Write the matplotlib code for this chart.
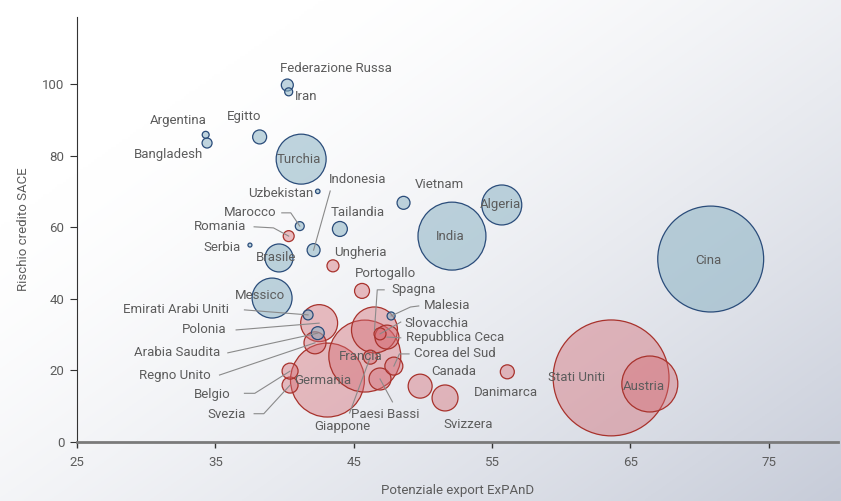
import numpy as np
import matplotlib.pyplot as plt

plt.rcParams['font.family'] = ['Roboto', 'DejaVu Sans']

# dati: potenziale export (x), rischio credito (y), peso della bolla, gruppo
paesi = ['Federazione Russa', 'Iran', 'Argentina', 'Bangladesh', 'Egitto', 'Turchia',
         'Uzbekistan', 'Vietnam', 'Marocco', 'Tailandia', 'Indonesia', 'Serbia',
         'Brasile', 'Messico', 'India', 'Algeria', 'Cina', 'Emirati Arabi Uniti',
         'Arabia Saudita', 'Malesia',
         'Romania', 'Ungheria', 'Portogallo', 'Polonia', 'Regno Unito', 'Francia',
         'Germania', 'Spagna', 'Slovacchia', 'Repubblica Ceca', 'Giappone',
         'Corea del Sud', 'Paesi Bassi', 'Belgio', 'Svezia', 'Canada', 'Svizzera',
         'Danimarca', 'Stati Uniti', 'Austria']
potenziale = [40.2, 40.3, 34.3, 34.4, 38.2, 41.2,
              42.4, 48.6, 41.1, 44.0, 42.1, 37.5,
              39.6, 39.1, 52.1, 55.7, 70.8, 41.7,
              42.4, 47.7,
              40.3, 43.5, 45.6, 42.5, 42.2, 45.8,
              43.1, 46.5, 46.9, 47.4, 46.2,
              47.9, 46.9, 40.4, 40.4, 49.8, 51.6,
              56.1, 63.6, 66.4]
rischio = [99.7, 97.8, 85.8, 83.5, 85.2, 79.0,
           70.0, 66.8, 60.3, 59.5, 53.6, 55.0,
           51.4, 40.2, 57.5, 66.2, 51.1, 35.5,
           30.4, 35.2,
           57.5, 49.2, 42.2, 33.2, 27.7, 24.0,
           17.3, 31.3, 30.2, 29.3, 23.7,
           21.2, 17.6, 19.8, 15.9, 15.6, 12.3,
           19.6, 17.9, 16.2]
peso = [36, 16, 12, 25, 49, 625,
        5, 42, 20, 56, 42, 4,
        196, 400, 1156, 400, 2809, 25,
        42, 16,
        30, 36, 56, 342, 121, 1296,
        1369, 529, 36, 144, 49,
        81, 121, 64, 64, 144, 169,
        49, 3364, 784]
gruppo = ['b'] * 20 + ['r'] * 20

# posizione delle etichette: (x, y, allineamento, linea guida)
etichette = {
    'Federazione Russa': (39.7, 104.2, 'left', None),
    'Iran': (40.75, 96.4, 'left', None),
    'Argentina': (34.4, 89.7, 'right', None),
    'Bangladesh': (34.1, 80.4, 'right', None),
    'Egitto': (37.1, 90.8, 'center', None),
    'Turchia': (41.0, 79.0, 'center', None),
    'Indonesia': (43.2, 73.2, 'left', [(43.3, 70.1)]),
    'Uzbekistan': (42.05, 69.3, 'right', None),
    'Vietnam': (49.4, 71.8, 'left', None),
    'Algeria': (55.6, 66.2, 'center', None),
    'Marocco': (39.45, 64.0, 'right', [(39.8, 64.0), (40.45, 64.0)]),
    'Tailandia': (43.3, 64.0, 'left', None),
    'Romania': (37.2, 60.1, 'right', [(37.8, 60.1), (39.2, 59.8)]),
    'India': (52.0, 57.5, 'center', None),
    'Serbia': (36.85, 54.2, 'right', None),
    'Brasile': (39.4, 51.4, 'center', None),
    'Ungheria': (43.6, 52.8, 'left', None),
    'Portogallo': (45.1, 47.2, 'left', None),
    'Spagna': (47.7, 42.5, 'left', [(47.2, 42.5), (46.7, 42.5)]),
    'Cina': (70.6, 50.8, 'center', None),
    'Messico': (38.2, 40.8, 'center', None),
    'Malesia': (50.1, 38.0, 'left', [(49.7, 38.0), (49.1, 37.7)]),
    'Emirati Arabi Uniti': (36.0, 36.9, 'right', [(37.1, 36.9)]),
    'Slovacchia': (48.7, 33.2, 'left', [(48.4, 33.5)]),
    'Polonia': (35.77, 31.3, 'right', [(36.5, 31.3)]),
    'Repubblica Ceca': (48.77, 29.1, 'left', [(48.4, 29.1)]),
    'Arabia Saudita': (35.33, 25.1, 'right', [(35.9, 24.9)]),
    'Francia': (45.5, 24.0, 'center', None),
    'Corea del Sud': (49.35, 24.6, 'left', [(49.0, 24.6), (48.3, 24.6)]),
    'Canada': (50.6, 19.8, 'left', None),
    'Regno Unito': (34.7, 18.7, 'right', [(35.3, 18.7)]),
    'Germania': (42.8, 17.3, 'center', None),
    'Danimarca': (53.7, 13.7, 'left', None),
    'Stati Uniti': (61.1, 17.9, 'center', None),
    'Austria': (66.0, 15.4, 'center', None),
    'Belgio': (36.1, 13.4, 'right', [(37.1, 13.6), (37.85, 13.6)]),
    'Paesi Bassi': (44.8, 7.8, 'left', [(47.8, 11.2)]),
    'Svezia': (37.2, 7.8, 'right', [(37.8, 7.9), (38.5, 7.9)]),
    'Giappone': (44.2, 4.2, 'center', [(44.7, 8.1)]),
    'Svizzera': (51.45, 5.0, 'left', None),
}

COL_TESTO = '#5c5c5c'
stili = {
    'r': dict(fc=(0.84, 0.42, 0.45, 0.42), ec='#a8322c'),
    'b': dict(fc=(0.55, 0.70, 0.77, 0.55), ec='#2a4c7a'),
}

fig = plt.figure(figsize=(8.41, 5.01), dpi=100)

# sfondo sfumato
bg = fig.add_axes([0, 0, 1, 1], zorder=-10)
gx, gy = np.meshgrid(np.linspace(0, 1, 300), np.linspace(0, 1, 200))
t = np.clip((gx * 0.65 + gy * 0.55 - 0.25) / 0.95, 0, 1) ** 1.4
chiaro = np.array([1.0, 1.0, 1.0])
scuro = np.array([0.78, 0.80, 0.85])
img = chiaro * (1 - t[..., None]) + scuro * t[..., None]
bg.imshow(img, aspect='auto', extent=[0, 1, 0, 1], origin='upper')
bg.axis('off')

ax = fig.add_axes([77 / 841, 59 / 501, 761 / 841, 425 / 501])
ax.patch.set_alpha(0)

x = np.array(potenziale)
y = np.array(rischio)
p = np.array(peso)
g = np.array(gruppo)
for gr, z in (('r', 2), ('b', 3)):
    sel = np.where(g == gr)[0]
    sel = sel[np.argsort(-p[sel])]
    ax.scatter(x[sel], y[sel], s=p[sel] * 2.07, facecolors=[stili[gr]['fc']],
               edgecolors=stili[gr]['ec'], linewidths=0.9, zorder=z)

for i, nome in enumerate(paesi):
    tx, ty, ha, guida = etichette[nome]
    if guida:
        px = [q[0] for q in guida] + [x[i]]
        py = [q[1] for q in guida] + [y[i]]
        ax.plot(px, py, color='#8a8a8a', lw=0.8, zorder=4)
    ax.text(tx, ty, nome, ha=ha, va='center', fontsize=9.5, color=COL_TESTO, zorder=5)

ax.set_xlim(25, 80)
ax.set_ylim(0, 118.7)
ax.set_xticks([25, 35, 45, 55, 65, 75])
ax.set_yticks([0, 20, 40, 60, 80, 100])
for s in ('top', 'right'):
    ax.spines[s].set_visible(False)
ax.spines['left'].set_color('#333333')
ax.spines['left'].set_linewidth(0.8)
ax.spines['bottom'].set_color('#7a7a7a')
ax.spines['bottom'].set_linewidth(2)
ax.spines['bottom'].set_zorder(6)
ax.tick_params(axis='x', length=4, width=1, color='#333333', labelcolor=COL_TESTO,
               labelsize=9.5, pad=6)
ax.tick_params(axis='y', length=5, width=0.8, color='#333333', labelcolor=COL_TESTO,
               labelsize=9.5, pad=4)
ax.set_xlabel('Potenziale export ExPAnD', color=COL_TESTO, fontsize=9.5, labelpad=11)
ax.set_ylabel('Rischio credito SACE', color=COL_TESTO, fontsize=9.5, labelpad=9)

fig.savefig('out.png', dpi=100)
